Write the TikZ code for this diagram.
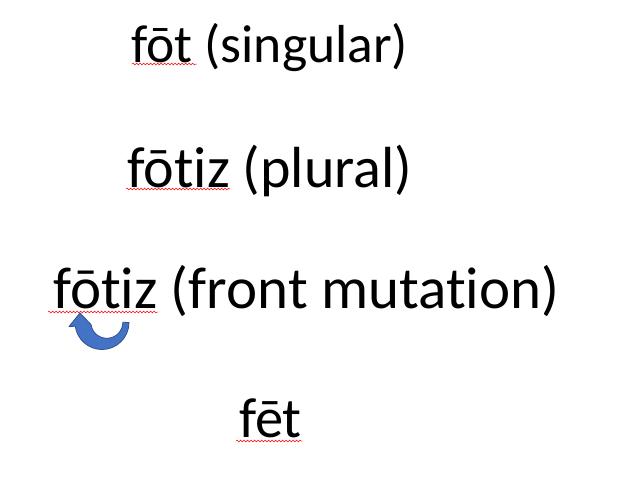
\documentclass[tikz,border=0pt]{standalone}
\usepackage{fontspec}
\setmainfont{Carlito}[Ligatures={NoCommon,NoRequired,NoContextual}]
\usetikzlibrary{decorations.pathmorphing}
\definecolor{mutfill}{HTML}{4472C4}
\definecolor{mutedge}{HTML}{2F528F}
\tikzset{
    x=1pt, y=-1pt, % image coordinates, y grows downwards
    word/.style={anchor=base west, inner sep=0pt, font=\fontsize{#1}{#1}\selectfont}, % every line of text
    word/.default=56,
    spell/.style={red, line width=0.5pt, decorate, decoration={snake, amplitude=0.9pt, segment length=3.5pt}}, % wavy underline
}
\begin{document}
\begin{tikzpicture}
    \useasboundingbox (0,0) rectangle (619,480);
    \node[word=53.5] (sg) at (131,62) {fōt (singular)};
    \node[word=58] (pl) at (127,187) {fōtiz (plural)};
    \node[word=59] (fm) at (53,308) {fōtiz (front mutation)};
    \node[word=56.5] (fe) at (239,437) {fēt};
    \coordinate (sgA) at (132,64); \coordinate (sgB) at (197,64);
    \coordinate (plA) at (126,189); \coordinate (plB) at (230,189);
    \coordinate (fmA) at (48,312); \coordinate (fmB) at (158,312);
    \coordinate (feA) at (236,441); \coordinate (feB) at (302,441);
    \draw[spell] (sgA) -- (sgB);
    \draw[spell] (plA) -- (plB);
    \draw[spell] (fmA) -- (fmB);
    \draw[spell] (feA) -- (feB);
    % the curved arrow under the vowel
    \coordinate (turn) at (102,322.5);
    \draw[mutedge, fill=mutfill, line width=0.8pt, line join=round]
        ([shift={(0:27)}]turn) arc[start angle=0, end angle=172, radius=27]
        -- (69,326.5) -- (80,313) -- (91,324.5)
        arc[start angle=172, end angle=0, radius=16] -- cycle;
\end{tikzpicture}
\end{document}
